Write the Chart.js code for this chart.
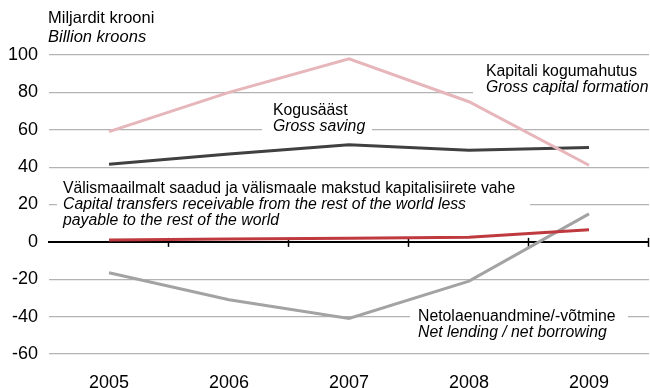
<!DOCTYPE html>
<html lang="et">
<head>
    <meta charset="UTF-8">
    <title>Kapitalikonto</title>
    <style>
        body {
            margin: 0;
            background: #ffffff;
        }
        .chart-box {
            width: 650px;
            height: 388px;
        }
    </style>
    <script src="https://cdn.jsdelivr.net/npm/chart.js"></script>
</head>
<body>
    <div class="chart-box">
        <canvas id="capitalChart"></canvas>
    </div>

    <script>
    const years = ["2005", "2006", "2007", "2008", "2009"];
    const grossCapitalFormation = [59, 80, 98, 75, 41];
    const grossSaving = [41.5, 47, 52, 49, 50.5];
    const capitalTransfers = [1, 1.5, 2, 2.5, 6.5];
    const netLending = [-16.5, -31, -41, -21, 15];
    const yTicks = [100, 80, 60, 40, 20, 0, -20, -40, -60];

    const FONT = "'Liberation Sans', Arial, sans-serif";

    // series captions, each with a white box that cuts the grid line behind it
    const captions = [
        { x: 486, y: 72, box: [473, 62, 177, 36], lines: [["Kapitali kogumahutus", false], ["Gross capital formation", true]] },
        { x: 273, y: 110.5, box: [262, 100, 110, 36], lines: [["Kogusääst", false], ["Gross saving", true]] },
        { x: 63, y: 188.5, box: [57, 178, 473, 52], lines: [
            ["Välismaailmalt saadud ja välismaale makstud kapitalisiirete vahe", false],
            ["Capital transfers receivable from the rest of the world less", true],
            ["payable to the rest of the world", true]] },
        { x: 418, y: 317, box: [410, 307, 218, 36], lines: [["Netolaenuandmine/-võtmine", false], ["Net lending / net borrowing", true]] }
    ];

    const decorPlugin = {
        id: "decor",
        beforeDatasetsDraw(chart) {
            const ctx = chart.ctx;
            const area = chart.chartArea;
            const xs = chart.scales.x;
            const ys = chart.scales.y;
            const y0 = ys.getPixelForValue(0);

            ctx.save();
            // caption boxes and text
            captions.forEach(c => {
                ctx.fillStyle = "#ffffff";
                ctx.fillRect(c.box[0], c.box[1], c.box[2], c.box[3]);
                ctx.fillStyle = "#000000";
                ctx.textBaseline = "middle";
                ctx.textAlign = "left";
                c.lines.forEach((ln, i) => {
                    ctx.font = (ln[1] ? "italic " : "") + "15.8px " + FONT;
                    ctx.fillText(ln[0], c.x, c.y + i * 16);
                });
            });

            // zero line with ticks between the years
            ctx.strokeStyle = "#000000";
            ctx.lineWidth = 2;
            ctx.beginPath();
            ctx.moveTo(area.left - 1, y0);
            ctx.lineTo(area.right, y0);
            ctx.stroke();
            ctx.lineWidth = 1.5;
            const step = xs.getPixelForValue(1) - xs.getPixelForValue(0);
            for (let i = 0; i < years.length; i++) {
                const tx = Math.round(xs.getPixelForValue(i) + step / 2) - 0.5;
                ctx.beginPath();
                ctx.moveTo(tx, y0 - 4);
                ctx.lineTo(tx, y0 + 5);
                ctx.stroke();
            }

            // unit title
            ctx.fillStyle = "#000000";
            ctx.font = "16.5px " + FONT;
            ctx.fillText("Miljardit krooni", 48, 18);
            ctx.font = "italic 16.5px " + FONT;
            ctx.fillText("Billion kroons", 48, 37);
            ctx.restore();
        }
    };

    new Chart(document.getElementById("capitalChart"), {
        type: "line",
        data: {
            labels: years,
            datasets: [
                { label: "Kapitali kogumahutus", data: grossCapitalFormation, borderColor: "#e6b6ba" },
                { label: "Kogusääst", data: grossSaving, borderColor: "#404040" },
                { label: "Kapitalisiirete vahe", data: capitalTransfers, borderColor: "#be3a3e" },
                { label: "Netolaenuandmine", data: netLending, borderColor: "#a3a3a3" }
            ]
        },
        options: {
            responsive: true,
            maintainAspectRatio: false,
            animation: false,
            layout: { padding: { top: 55, right: 1, bottom: 0, left: 0 } },
            elements: {
                line: { borderWidth: 3, tension: 0 },
                point: { radius: 0 }
            },
            plugins: {
                legend: { display: false },
                tooltip: { enabled: false }
            },
            scales: {
                x: {
                    offset: true,
                    grid: { display: false, drawTicks: false },
                    border: { display: false },
                    ticks: { padding: 18, color: "#000000", font: { family: FONT, size: 18 } },
                    afterFit(scale) { scale.height = 34; }
                },
                y: {
                    min: -60,
                    max: 100,
                    afterBuildTicks(scale) { scale.ticks = yTicks.map(v => ({ value: v })); },
                    grid: { color: "#b3b3b3", lineWidth: 1.2, drawTicks: false },
                    border: { display: false },
                    ticks: { padding: 11, color: "#000000", font: { family: FONT, size: 18 } },
                    afterFit(scale) { scale.width = 49; }
                }
            }
        },
        plugins: [decorPlugin]
    });
    </script>
</body>
</html>
